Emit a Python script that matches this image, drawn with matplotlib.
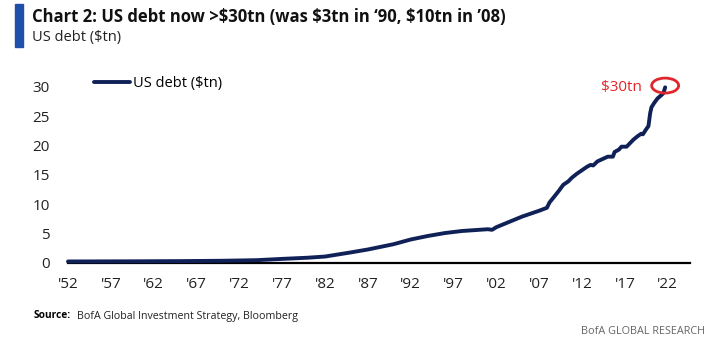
import matplotlib
matplotlib.use('Agg')
import matplotlib.pyplot as plt
from matplotlib.patches import Ellipse

plt.rcParams['font.family'] = ['Open Sans', 'DejaVu Sans']

# US debt ($tn)
years = [1952, 1960, 1965, 1970, 1974, 1977, 1980, 1982, 1985, 1987, 1990,
         1992, 1994, 1996, 1998, 2000, 2001, 2001.5, 2002, 2003, 2004, 2005,
         2006, 2007, 2007.9, 2008.2, 2008.7, 2009.3, 2009.8, 2010.4, 2010.8,
         2011.4, 2012, 2012.6, 2013, 2013.3, 2013.8, 2014.4, 2015, 2015.3,
         2015.6, 2015.8, 2016.3, 2016.6, 2016.9, 2017.2, 2017.6, 2018, 2018.5,
         2018.9, 2019.1, 2019.5, 2019.75, 2019.95, 2020.1, 2020.4, 2020.8,
         2021.2, 2021.5, 2021.7]
debt = [0.26, 0.29, 0.32, 0.38, 0.48, 0.7, 0.9, 1.1, 1.8, 2.3, 3.2,
        4.0, 4.6, 5.1, 5.45, 5.65, 5.75, 5.65, 6.1, 6.7, 7.3, 7.9,
        8.4, 8.9, 9.4, 10.3, 11.2, 12.3, 13.3, 13.9, 14.5,
        15.2, 15.8, 16.4, 16.7, 16.6, 17.3, 17.7, 18.1, 18.1,
        18.1, 18.9, 19.3, 19.8, 19.8, 19.8, 20.4, 21.0, 21.6,
        22.0, 21.9, 22.8, 23.3, 25.5, 26.5, 27.2, 28.0,
        28.5, 28.9, 29.9]
tick_years = list(range(1952, 2023, 5))
tick_labels = ["'%02d" % (y % 100) for y in tick_years]
yticks = [0, 5, 10, 15, 20, 25, 30]

navy = '#0f2157'
red = '#e0262c'

fig = plt.figure(figsize=(7.1, 3.43), dpi=100)
ax = fig.add_axes([68 / 710, 1 - 263 / 343, 622 / 710, 188 / 343])

ax.plot(years, debt, color=navy, lw=2.8, solid_capstyle='round',
        clip_on=False, label='US debt ($tn)', zorder=3)

ax.set_xlim(1952, 2024.6)
ax.set_ylim(0, 32)
ax.set_xticks(tick_years)
ax.set_xticklabels(tick_labels)
ax.set_yticks(yticks)
ax.tick_params(length=0, labelsize=11, colors='#222222')
ax.tick_params(axis='x', pad=10)
ax.tick_params(axis='y', pad=13)
for s in ['top', 'right', 'left']:
    ax.spines[s].set_visible(False)
ax.spines['bottom'].set_linewidth(1.6)
ax.spines['bottom'].set_color('black')

ax.legend(loc='upper left', bbox_to_anchor=(94 / 710, 1 - 76 / 343),
          bbox_transform=fig.transFigure, frameon=False, fontsize=10.5,
          borderpad=0, borderaxespad=0, handlelength=2.5, handletextpad=0.15)

ax.add_patch(Ellipse((2021.7, 30.2), 3.15, 2.55, fill=False, edgecolor=red,
                     lw=2, clip_on=False, zorder=4))
ax.text(2016.6, 29.8, '$30tn', color=red, fontsize=11, ha='center', va='center')

# header
fig.patches.append(plt.Rectangle((15 / 710, 1 - 47 / 343), 8 / 710, 43 / 343,
                                 transform=fig.transFigure, color='#1f4fa8'))
fig.text(32 / 710, 1 - 17 / 343, "Chart 2: US debt now >$30tn (was $3tn in \u201890, $10tn in \u201908)",
         fontsize=12, fontweight='bold', va='center', color='#111111')
fig.text(32 / 710, 1 - 38 / 343, 'US debt ($tn)', fontsize=10.5, va='center', color='#222222')

# footer
fig.text(34 / 710, 1 - 316 / 343, 'Source:', fontsize=7.3, fontweight='bold', va='center')
fig.text(77 / 710, 1 - 316 / 343, 'BofA Global Investment Strategy, Bloomberg', fontsize=7.7,
         va='center', color='#222222')
fig.text(705 / 710, 1 - 331 / 343, 'BofA GLOBAL RESEARCH', fontsize=7.8, va='center', ha='right',
         color='#666666')

fig.savefig('out.png', dpi=100)
